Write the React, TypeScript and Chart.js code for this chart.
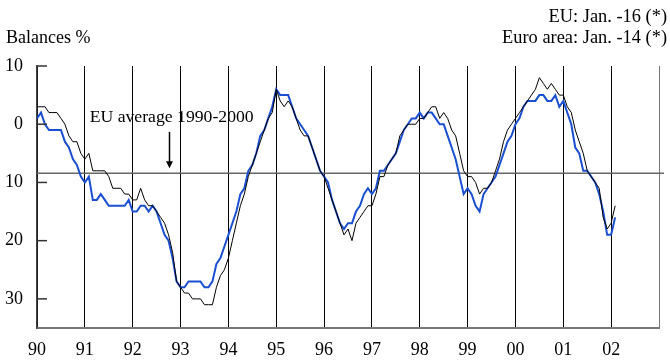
import React, { useEffect, useRef } from 'react';
import { Chart, registerables } from 'chart.js';

Chart.register(...registerables);

// ---- data (monthly, Jan 1990 - Feb 2002) ----
const START_YEAR = 1990;
const END_YEAR = 2003;
const YEAR_LABELS = ['90', '91', '92', '93', '94', '95', '96', '97', '98', '99', '00', '01', '02'];
const Y_TICKS = [10, 0, -10, -20, -30];
const Y_MIN = -35;
const Y_MAX = 10;
const EU_AVERAGE = -8.4;

// black line
const seriesBlack = [
  3, 3, 3, 2, 2, 2, 1, 0, -2, -3, -3, -5, // 1990
  -6, -5, -8, -8, -8, -8, -9, -11, -11, -11, -12, -12, // 1991
  -13, -13, -11, -13, -14, -14, -15, -16, -17, -19, -22, -27, // 1992
  -28, -29, -29, -30, -30, -30, -31, -31, -31, -28, -26, -25, // 1993
  -23, -20, -17, -14, -12, -9, -7, -5, -3, -1, 1, 2, // 1994
  6, 4, 3, 4, 3, 1, -1, -2, -2, -4, -6, -8, // 1995
  -9, -11, -13, -15, -17, -19, -18, -20, -17, -16, -15, -14, // 1996
  -14, -12, -9, -9, -7, -6, -5, -2, -1, 0, 0, 0, // 1997
  1, 1, 2, 3, 3, 1, 2, 1, -1, -2, -5, -8, // 1998
  -9, -9, -10, -12, -11, -11, -10, -8, -6, -3, -1, 0, // 1999
  1, 2, 3, 4, 5, 6, 8, 7, 6, 7, 6, 5, // 2000
  5, 3, 2, -1, -3, -5, -8, -9, -10, -11, -16, -18, // 2001
  -17, -14, // 2002
];

// blue line
const seriesBlue = [
  1, 2, 0, -1, -1, -1, -1, -3, -4, -6, -7, -9, // 1990
  -10, -9, -13, -13, -12, -13, -14, -14, -14, -14, -14, -13, // 1991
  -15, -15, -14, -14, -15, -14, -15, -17, -19, -20, -23, -27, // 1992
  -28, -28, -27, -27, -27, -27, -28, -28, -27, -24, -23, -21, // 1993
  -19, -17, -15, -12, -11, -8, -7, -5, -2, -1, 1, 3, // 1994
  6, 5, 5, 5, 3, 1, 0, -1, -2, -4, -6, -8, // 1995
  -9, -10, -13, -15, -17, -18, -17, -17, -15, -14, -12, -11, // 1996
  -12, -11, -8, -8, -7, -6, -5, -3, -1, 0, 1, 1, // 1997
  2, 1, 2, 2, 1, 0, 0, -2, -4, -6, -9, -12, // 1998
  -11, -12, -14, -15, -12, -11, -10, -9, -7, -5, -3, -2, // 1999
  0, 1, 3, 4, 4, 4, 5, 5, 4, 4, 5, 3, // 2000
  4, 2, 0, -4, -5, -8, -8, -9, -10, -12, -15, -19, // 2001
  -19, -16, // 2002
];

const HEADER_LEFT = 'Balances %';
const HEADER_RIGHT = ['EU: Jan. -16 (*)', 'Euro area: Jan. -14 (*)'];
const ANNOTATION = 'EU average 1990-2000';
const ANNOT_X = 1991.1;
const ANNOT_Y = 0.43;
const ARROW_X = 1992.76;
const ARROW_TOP = -1.3;

const FONT = '"Liberation Serif", "Times New Roman", serif';
const FONT_SIZE = 18;
const BLUE = '#1a4fd2';

const toPoints = (arr: number[]) => arr.map((v, i) => ({ x: START_YEAR + i / 12, y: v }));

const decorPlugin = {
  id: 'decor',
  beforeDatasetsDraw(chart: any) {
    const { ctx, chartArea, scales } = chart;
    const ys = scales.y;
    ctx.save();
    const yAvg = ys.getPixelForValue(EU_AVERAGE);
    ctx.strokeStyle = '#666';
    ctx.lineWidth = 1.5;
    ctx.beginPath();
    ctx.moveTo(chartArea.left, yAvg);
    ctx.lineTo(chartArea.right + 5, yAvg);
    ctx.stroke();
    ctx.restore();
  },
  afterDraw(chart: any) {
    const { ctx, chartArea, scales } = chart;
    const xs = scales.x;
    const ys = scales.y;
    ctx.save();
    // inner y tick marks
    ctx.strokeStyle = '#333';
    ctx.lineWidth = 1.5;
    Y_TICKS.forEach((v) => {
      const py = ys.getPixelForValue(v);
      ctx.beginPath();
      ctx.moveTo(chartArea.left, py);
      ctx.lineTo(chartArea.left + 10, py);
      ctx.stroke();
    });
    // annotation
    ctx.fillStyle = '#000';
    ctx.font = `${FONT_SIZE - 0.3}px ${FONT}`;
    ctx.textBaseline = 'alphabetic';
    ctx.textAlign = 'left';
    ctx.fillText(ANNOTATION, xs.getPixelForValue(ANNOT_X), ys.getPixelForValue(ANNOT_Y));
    // arrow
    const ax = Math.round(xs.getPixelForValue(ARROW_X)) + 0.5;
    const aTop = ys.getPixelForValue(ARROW_TOP);
    const aBot = ys.getPixelForValue(EU_AVERAGE) - 5;
    ctx.strokeStyle = '#000';
    ctx.lineWidth = 1.5;
    ctx.beginPath();
    ctx.moveTo(ax, aTop);
    ctx.lineTo(ax, aBot - 5);
    ctx.stroke();
    ctx.beginPath();
    ctx.moveTo(ax - 3.5, aBot - 7);
    ctx.lineTo(ax + 3.5, aBot - 7);
    ctx.lineTo(ax, aBot);
    ctx.closePath();
    ctx.fill();
    // headers
    ctx.font = `${FONT_SIZE}px ${FONT}`;
    ctx.textAlign = 'left';
    ctx.fillText(HEADER_LEFT, 6, 43);
    ctx.textAlign = 'right';
    ctx.font = `${FONT_SIZE + 0.4}px ${FONT}`;
    ctx.fillText(HEADER_RIGHT[0], 667, 22);
    ctx.fillText(HEADER_RIGHT[1], 667, 43);
    ctx.restore();
  },
};

export default function App() {
  const ref = useRef<HTMLCanvasElement | null>(null);
  useEffect(() => {
    document.body.style.margin = '0';
    const canvas = ref.current;
    if (!canvas) return;
    const chart = new Chart(canvas, {
      type: 'line',
      data: {
        datasets: [
          {
            data: toPoints(seriesBlack),
            borderColor: '#000',
            borderWidth: 1,
            pointRadius: 0,
            tension: 0,
          },
          {
            data: toPoints(seriesBlue),
            borderColor: BLUE,
            borderWidth: 2,
            pointRadius: 0,
            tension: 0,
          },
        ],
      },
      options: {
        animation: false,
        responsive: false,
        events: [],
        layout: { padding: { top: 66, right: 7, left: 0, bottom: 0 } },
        plugins: { legend: { display: false }, tooltip: { enabled: false }, title: { display: false } },
        scales: {
          x: {
            type: 'linear',
            min: START_YEAR,
            max: END_YEAR,
            afterFit: (s: any) => { s.height = 32; },
            afterBuildTicks: (s: any) => {
              const t = [];
              for (let y = START_YEAR; y <= END_YEAR; y++) t.push({ value: y });
              s.ticks = t;
            },
            ticks: {
              autoSkip: false,
              maxRotation: 0,
              padding: 11,
              color: '#000',
              font: { family: FONT, size: FONT_SIZE },
              callback: (v: any) => YEAR_LABELS[Math.round(v) - START_YEAR] ?? '',
            },
            grid: {
              drawTicks: false,
              lineWidth: 1,
              color: (c: any) => (c.tick && c.tick.value === END_YEAR ? '#777' : '#000'),
            },
            border: { display: true, color: '#777', width: 2 },
          },
          y: {
            type: 'linear',
            min: Y_MIN,
            max: Y_MAX,
            afterFit: (s: any) => { s.width = 37; },
            afterBuildTicks: (s: any) => { s.ticks = Y_TICKS.map((v) => ({ value: v })); },
            ticks: {
              padding: 14,
              color: '#000',
              font: { family: FONT, size: FONT_SIZE },
              callback: (v: any) => String(Math.abs(v)),
            },
            grid: { display: false, drawTicks: false },
            border: { display: true, color: '#444', width: 1.5 },
          },
        },
      },
      plugins: [decorPlugin],
    } as any);
    return () => chart.destroy();
  }, []);
  return <canvas ref={ref} width={670} height={360} style={{ display: 'block' }} />;
}
